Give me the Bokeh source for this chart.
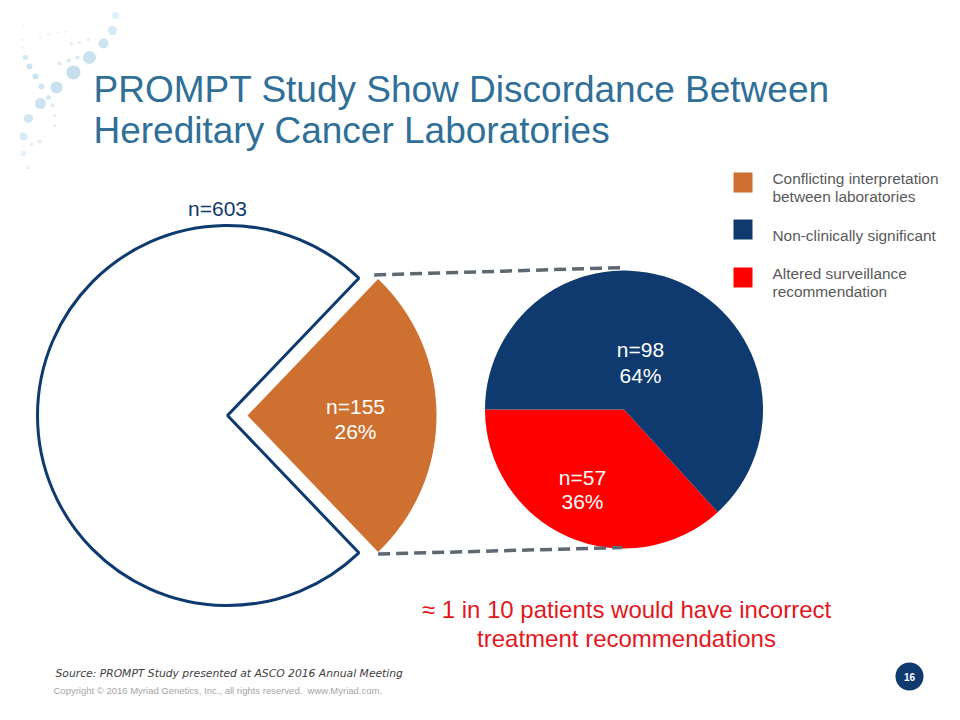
import math
from bokeh.plotting import figure
from bokeh.models import Range1d
from bokeh.core.properties import value
from bokeh.embed import file_html
from bokeh.resources import INLINE

# ---------------- data ----------------
title_lines = ["PROMPT Study Show Discordance Between", "Hereditary Cancer Laboratories"]
big_total_label = "n=603"
big_counts = [155, 448]                     # conflicting vs. remaining (total 603)
big_slice_labels = ["n=155", "26%"]
small_counts = [98, 57]                     # non-clinically significant, altered surveillance
small_n_labels = ["n=98", "n=57"]
small_pct_labels = ["64%", "36%"]
legend_labels = [["Conflicting interpretation", "between laboratories"],
                 ["Non-clinically significant"],
                 ["Altered surveillance", "recommendation"]]
callout_lines = ["\u2248 1 in 10 patients would have incorrect", "treatment recommendations"]
source_text = "Source: PROMPT Study presented at ASCO 2016 Annual Meeting"
copyright_text = "Copyright \u00a9 2016 Myriad Genetics, Inc., all rights reserved.\u00a0 www.Myriad.com."
page_number = "16"

# decorative dots (ref px x, ref px y, radius, alpha)
deco_dots = [
    (115, 15, 3.5, 0.3), (112, 30, 4.5, 0.4), (103, 43, 5.0, 0.5), (89, 57, 6.5, 0.55),
    (73, 72, 7.0, 0.6), (56, 87, 6.0, 0.55), (40, 103, 5.5, 0.5), (28, 118, 4.5, 0.45),
    (23, 136, 4.0, 0.35), (23, 153, 3.0, 0.25), (27, 167, 2.0, 0.2),
    (25, 57, 2.5, 0.45), (29, 66, 3.0, 0.5), (35, 76, 3.0, 0.5), (41, 86, 3.0, 0.45),
    (48, 97, 2.5, 0.4), (52, 105, 2.0, 0.35), (54, 115, 1.6, 0.3), (54, 125, 1.6, 0.3),
    (39, 141, 2.0, 0.3), (31, 144, 2.0, 0.25),
    (59, 63, 2.0, 0.4), (68, 60, 2.0, 0.4), (77, 57, 2.0, 0.4),
    (71, 43, 1.6, 0.3), (79, 42, 1.6, 0.3), (88, 39, 1.6, 0.3),
    (40, 37, 1.5, 0.2), (48, 34, 1.5, 0.2), (57, 32, 1.5, 0.2), (65, 31, 1.5, 0.2),
    (22, 39, 1.5, 0.2), (22, 47, 1.5, 0.2), (23, 25, 1.5, 0.15),
]

# ---------------- styles ----------------
ORANGE = "#cd7030"
NAVY = "#0f3a70"
RED = "#ff0000"
TITLE_BLUE = "#2f6f98"
GRAY = "#595959"
FONT = value("Liberation Sans")

W, H = 944, 704
p = figure(width=W, height=H, x_range=Range1d(0, W), y_range=Range1d(720 - H, 720),
           output_backend="svg", toolbar_location=None, min_border=0,
           x_axis_type=None, y_axis_type=None)
p.grid.visible = False
p.outline_line_color = None
p.background_fill_color = "white"
p.border_fill_color = "white"


def Y(ry):
    return 720 - ry


# decorative dots
p.circle(x=[d[0] for d in deco_dots], y=[Y(d[1]) for d in deco_dots],
         radius=[d[2] for d in deco_dots], fill_color="#9cc8e3",
         fill_alpha=[d[3] for d in deco_dots], line_color=None)

# title
p.text(x=[93, 93], y=[Y(89), Y(130)], text=title_lines, text_font=FONT,
       text_font_size="37px", text_color=TITLE_BLUE, text_baseline="alphabetic")

# ---------------- big pie ----------------
big_total = sum(big_counts)
half = math.pi * big_counts[0] / big_total
bcx, bcy, br = 227, Y(415), 190
explode = 20
p.wedge(x=[bcx], y=[bcy], radius=br, start_angle=half, end_angle=2 * math.pi - half,
        fill_color="white", line_color=NAVY, line_width=3)
ocx = bcx + explode
p.wedge(x=[ocx], y=[bcy], radius=br - 1, start_angle=-half, end_angle=half,
        fill_color=ORANGE, line_color=None)

p.text(x=[217], y=[Y(208)], text=[big_total_label], text_font=FONT, text_font_size="21px",
       text_color=NAVY, text_align="center", text_baseline="alphabetic")
p.text(x=[355, 355], y=[Y(406), Y(431)], text=big_slice_labels, text_font=FONT,
       text_font_size="21px", text_color="white", text_align="center", text_baseline="alphabetic")

# ---------------- small pie ----------------
scx, scy, sr = 623.5, Y(409), 139
small_total = sum(small_counts)
red_span = 2 * math.pi * small_counts[1] / small_total
p.wedge(x=[scx], y=[scy], radius=sr, start_angle=math.pi, end_angle=math.pi + red_span,
        fill_color=RED, line_color=None)
p.wedge(x=[scx], y=[scy], radius=sr, start_angle=math.pi + red_span, end_angle=3 * math.pi,
        fill_color=NAVY, line_color=None)

p.text(x=[640, 640], y=[Y(349), Y(375)], text=[small_n_labels[0], small_pct_labels[0]],
       text_font=FONT, text_font_size="21px", text_color="white", text_align="center",
       text_baseline="alphabetic")
p.text(x=[582, 582], y=[Y(477), Y(501)], text=[small_n_labels[1], small_pct_labels[1]],
       text_font=FONT, text_font_size="21px", text_color="white", text_align="center",
       text_baseline="alphabetic")

# connector dashed lines (orange tips -> small pie top/bottom)
r_o = br - 1
top_tip = (ocx + r_o * math.cos(half) - 4, bcy + r_o * math.sin(half) + 4)
bot_tip = (ocx + r_o * math.cos(-half), bcy + r_o * math.sin(-half) - 2)
p.line(x=[top_tip[0], scx + 2], y=[top_tip[1], scy + sr + 3],
       line_color="#5d6873", line_width=3.5, line_dash="12 6")
p.line(x=[bot_tip[0], scx - 2], y=[bot_tip[1], scy - sr + 1],
       line_color="#5d6873", line_width=3.5, line_dash="12 6")

# ---------------- legend ----------------
sq_y = [182, 229, 277]
p.rect(x=[742.5] * 3, y=[Y(v) for v in sq_y], width=19, height=20,
       fill_color=[ORANGE, NAVY, RED], line_color=None)
leg_baselines = [[178, 196], [235], [273, 291]]
lx, ly, lt = [], [], []
for lines, bls in zip(legend_labels, leg_baselines):
    for t, b in zip(lines, bls):
        lx.append(772)
        ly.append(Y(b))
        lt.append(t)
p.text(x=lx, y=ly, text=lt, text_font=FONT, text_font_size="15.4px", text_color=GRAY,
       text_baseline="alphabetic")

# ---------------- callout ----------------
p.text(x=[626, 626], y=[Y(609), Y(638)], text=callout_lines, text_font=FONT,
       text_font_size="24px", text_color="#e3171c", text_align="center",
       text_baseline="alphabetic")

# ---------------- footer ----------------
p.text(x=[55], y=[Y(673)], text=[source_text], text_font=value("DejaVu Sans"),
       text_font_size="10.75px", text_font_style="italic", text_color="#404040",
       text_baseline="alphabetic")
p.text(x=[53], y=[Y(690)], text=[copyright_text], text_font=FONT,
       text_font_size="9.5px", text_color="#a6a6a6", text_baseline="alphabetic")
p.circle(x=[909], y=[Y(676)], radius=14, fill_color=NAVY, line_color=None)
p.text(x=[909], y=[Y(676)], text=[page_number], text_font=FONT, text_font_size="10px",
       text_font_style="bold", text_color="white", text_align="center", text_baseline="middle")

open("out.html", "w").write(file_html(p, INLINE))
